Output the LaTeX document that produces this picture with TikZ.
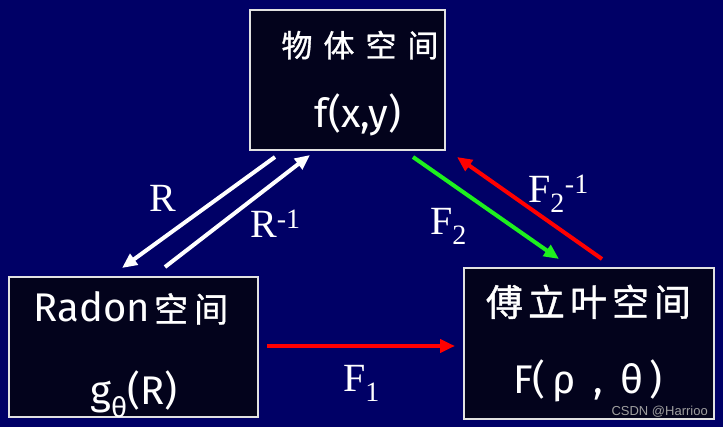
\documentclass[tikz,border=0pt]{standalone}
\usepackage{fontspec}
\setmainfont{Liberation Serif}
\newfontfamily\boxfont{Fira Sans}
\newfontfamily\cjk[FakeBold=1]{Noto Sans CJK SC}
\newfontfamily\markfont{Liberation Sans}
\usetikzlibrary{arrows.meta}
\definecolor{navy}{RGB}{0,0,102}
\definecolor{boxfill}{RGB}{3,3,28}
\definecolor{bordergray}{RGB}{225,225,225}
\definecolor{brightgreen}{RGB}{30,240,30}
\newcommand{\cgap}[1]{\hspace{#1pt}}

\begin{document}
\begin{tikzpicture}[x=1pt,y=-1pt,
    space/.style={draw=bordergray,line width=1.5pt,fill=boxfill,inner sep=0pt},
    boxtext/.style={text=white,inner sep=0pt,anchor=base,font=\boxfont\fontsize{40}{40}\selectfont},
    cjktext/.style={text=white,inner sep=0pt,anchor=base,font=\cjk\fontsize{#1}{#1}\selectfont},
    maplabel/.style={text=white,inner sep=0pt,anchor=base west,font=\fontsize{40}{40}\selectfont},
    map/.style={line width=4pt,-{Triangle[length=15pt,width=13pt]}}]
  % Background
  \fill[navy] (0,0) rectangle (723,427);
  \useasboundingbox (0,0) rectangle (723,427);
  % Spaces
  \node[space,minimum width=195pt,minimum height=140pt] (obj) at (347.5,80) {};
  \node[space,minimum width=249pt,minimum height=140pt] (radon) at (133.5,347) {};
  \node[space,minimum width=250pt,minimum height=151pt] (fourier) at (589,343.5) {};
  % Texts in the spaces
  \node[cjktext=31] (objname) at (360,57) {物\cgap{11}体\cgap{11}空\cgap{11}间};
  \node[boxtext] (objfun) at (358,128) {f(x,y)};
  \node[boxtext] (radonname) at (131,322) {Radon\hspace{4pt}{\cjk\fontsize{34}{34}\selectfont 空\hspace{6pt}间}};
  \node[boxtext] (radonfun) at (134,405) {g\textsubscript{θ}(R)};
  \node[cjktext=37] (fouriername) at (588.5,316) {傅\cgap{5}立\cgap{5}叶\cgap{5}空\cgap{5}间};
  \node[boxtext] (fourierfun) at (588,394) {F(\,ρ\, ,\, θ\,)};
  % Arrow ends
  \coordinate (r0) at (275,157);   \coordinate (r1) at (122,268);
  \coordinate (ri0) at (165,267);  \coordinate (ri1) at (310,155);
  \coordinate (f20) at (413,157);  \coordinate (f21) at (559,259);
  \coordinate (fi0) at (602,259);  \coordinate (fi1) at (457,157);
  \coordinate (f10) at (267,346);  \coordinate (f11) at (455,346);
  % Transforms
  \draw[map,white] (r0) -- (r1);
  \draw[map,white] (ri0) -- (ri1);
  \draw[map,brightgreen] (f20) -- (f21);
  \draw[map,red] (fi0) -- (fi1);
  \draw[map,red] (f10) -- (f11);
  % Labels
  \node[maplabel] (rlab) at (149,212) {R};
  \node[maplabel] (rilab) at (250,238) {R\textsuperscript{-1}};
  \node[maplabel] (f2lab) at (430,235) {F\textsubscript{2}};
  \node[maplabel] (f2ilab) at (528,203) {F\textsubscript{2}\textsuperscript{-1}};
  \node[maplabel] (f1lab) at (343,392) {F\textsubscript{1}};
  % Watermark
  \node[text=gray!75,inner sep=0pt,anchor=base east,font=\markfont\fontsize{13}{13}\selectfont] (mark) at (708,416) {CSDN @Harrioo};
\end{tikzpicture}
\end{document}
